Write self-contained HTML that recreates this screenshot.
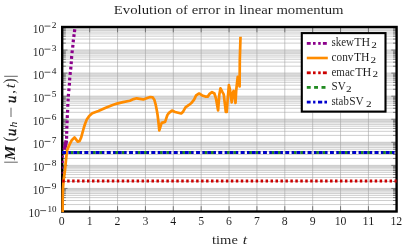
<!DOCTYPE html>
<html><head><meta charset="utf-8"><title>Evolution of error in linear momentum</title>
<style>html,body{margin:0;padding:0;background:#fff;}body{width:407px;height:248px;overflow:hidden;font-family:"Liberation Serif",serif;}svg{display:block;will-change:transform;}text{font-family:"Liberation Serif",serif;fill:#141414;stroke:#fff;stroke-width:0.06px;}</style>
</head><body>
<svg width="407" height="248" viewBox="0 0 407 248">
<rect x="0" y="0" width="407" height="248" fill="#fff"/>
<defs><clipPath id="cp"><rect x="61.10" y="26.20" width="336.60" height="186.00"/></clipPath></defs>
<g stroke="#adadad" stroke-width="0.60" fill="none">
<path d="M62.20 204.56H396.60"/>
<path d="M62.20 200.50H396.60"/>
<path d="M62.20 197.61H396.60"/>
<path d="M62.20 195.38H396.60"/>
<path d="M62.20 193.55H396.60"/>
<path d="M62.20 192.01H396.60"/>
<path d="M62.20 190.67H396.60"/>
<path d="M62.20 189.49H396.60"/>
<path d="M62.20 181.49H396.60"/>
<path d="M62.20 177.43H396.60"/>
<path d="M62.20 174.55H396.60"/>
<path d="M62.20 172.32H396.60"/>
<path d="M62.20 170.49H396.60"/>
<path d="M62.20 168.95H396.60"/>
<path d="M62.20 167.61H396.60"/>
<path d="M62.20 166.43H396.60"/>
<path d="M62.20 158.43H396.60"/>
<path d="M62.20 154.37H396.60"/>
<path d="M62.20 151.49H396.60"/>
<path d="M62.20 149.26H396.60"/>
<path d="M62.20 147.43H396.60"/>
<path d="M62.20 145.88H396.60"/>
<path d="M62.20 144.55H396.60"/>
<path d="M62.20 143.37H396.60"/>
<path d="M62.20 135.37H396.60"/>
<path d="M62.20 131.31H396.60"/>
<path d="M62.20 128.43H396.60"/>
<path d="M62.20 126.19H396.60"/>
<path d="M62.20 124.37H396.60"/>
<path d="M62.20 122.82H396.60"/>
<path d="M62.20 121.48H396.60"/>
<path d="M62.20 120.31H396.60"/>
<path d="M62.20 112.31H396.60"/>
<path d="M62.20 108.25H396.60"/>
<path d="M62.20 105.36H396.60"/>
<path d="M62.20 103.13H396.60"/>
<path d="M62.20 101.30H396.60"/>
<path d="M62.20 99.76H396.60"/>
<path d="M62.20 98.42H396.60"/>
<path d="M62.20 97.24H396.60"/>
<path d="M62.20 89.24H396.60"/>
<path d="M62.20 85.18H396.60"/>
<path d="M62.20 82.30H396.60"/>
<path d="M62.20 80.07H396.60"/>
<path d="M62.20 78.24H396.60"/>
<path d="M62.20 76.70H396.60"/>
<path d="M62.20 75.36H396.60"/>
<path d="M62.20 74.18H396.60"/>
<path d="M62.20 66.18H396.60"/>
<path d="M62.20 62.12H396.60"/>
<path d="M62.20 59.24H396.60"/>
<path d="M62.20 57.01H396.60"/>
<path d="M62.20 55.18H396.60"/>
<path d="M62.20 53.63H396.60"/>
<path d="M62.20 52.30H396.60"/>
<path d="M62.20 51.12H396.60"/>
<path d="M62.20 43.12H396.60"/>
<path d="M62.20 39.06H396.60"/>
<path d="M62.20 36.18H396.60"/>
<path d="M62.20 33.94H396.60"/>
<path d="M62.20 32.12H396.60"/>
<path d="M62.20 30.57H396.60"/>
<path d="M62.20 29.23H396.60"/>
<path d="M62.20 28.06H396.60"/>
</g>
<g stroke="#a2a2a2" stroke-width="0.60" fill="none">
<path d="M62.20 188.44H396.60"/>
<path d="M62.20 165.38H396.60"/>
<path d="M62.20 142.31H396.60"/>
<path d="M62.20 119.25H396.60"/>
<path d="M62.20 96.19H396.60"/>
<path d="M62.20 73.12H396.60"/>
<path d="M62.20 50.06H396.60"/>
<path d="M89.67 27.00V211.50"/>
<path d="M117.55 27.00V211.50"/>
<path d="M145.43 27.00V211.50"/>
<path d="M173.30 27.00V211.50"/>
<path d="M201.18 27.00V211.50"/>
<path d="M229.05 27.00V211.50"/>
<path d="M256.93 27.00V211.50"/>
<path d="M284.80 27.00V211.50"/>
<path d="M312.68 27.00V211.50"/>
<path d="M340.55 27.00V211.50"/>
<path d="M368.43 27.00V211.50"/>
</g>
<g stroke="#606060" stroke-width="0.80" fill="none">
<path d="M61.80 27.00V32.30"/>
<path d="M61.80 211.50V206.20"/>
<path d="M89.67 27.00V32.30"/>
<path d="M89.67 211.50V206.20"/>
<path d="M117.55 27.00V32.30"/>
<path d="M117.55 211.50V206.20"/>
<path d="M145.43 27.00V32.30"/>
<path d="M145.43 211.50V206.20"/>
<path d="M173.30 27.00V32.30"/>
<path d="M173.30 211.50V206.20"/>
<path d="M201.18 27.00V32.30"/>
<path d="M201.18 211.50V206.20"/>
<path d="M229.05 27.00V32.30"/>
<path d="M229.05 211.50V206.20"/>
<path d="M256.93 27.00V32.30"/>
<path d="M256.93 211.50V206.20"/>
<path d="M284.80 27.00V32.30"/>
<path d="M284.80 211.50V206.20"/>
<path d="M312.68 27.00V32.30"/>
<path d="M312.68 211.50V206.20"/>
<path d="M340.55 27.00V32.30"/>
<path d="M340.55 211.50V206.20"/>
<path d="M368.43 27.00V32.30"/>
<path d="M368.43 211.50V206.20"/>
<path d="M396.30 27.00V32.30"/>
<path d="M396.30 211.50V206.20"/>
<path d="M62.20 211.50H67.50"/>
<path d="M396.60 211.50H391.30"/>
<path d="M62.20 188.44H67.50"/>
<path d="M396.60 188.44H391.30"/>
<path d="M62.20 165.38H67.50"/>
<path d="M396.60 165.38H391.30"/>
<path d="M62.20 142.31H67.50"/>
<path d="M396.60 142.31H391.30"/>
<path d="M62.20 119.25H67.50"/>
<path d="M396.60 119.25H391.30"/>
<path d="M62.20 96.19H67.50"/>
<path d="M396.60 96.19H391.30"/>
<path d="M62.20 73.12H67.50"/>
<path d="M396.60 73.12H391.30"/>
<path d="M62.20 50.06H67.50"/>
<path d="M396.60 50.06H391.30"/>
<path d="M62.20 27.00H67.50"/>
<path d="M396.60 27.00H391.30"/>
<path d="M62.20 204.56H65.80"/>
<path d="M396.60 204.56H393.00"/>
<path d="M62.20 200.50H65.80"/>
<path d="M396.60 200.50H393.00"/>
<path d="M62.20 197.61H65.80"/>
<path d="M396.60 197.61H393.00"/>
<path d="M62.20 195.38H65.80"/>
<path d="M396.60 195.38H393.00"/>
<path d="M62.20 193.55H65.80"/>
<path d="M396.60 193.55H393.00"/>
<path d="M62.20 192.01H65.80"/>
<path d="M396.60 192.01H393.00"/>
<path d="M62.20 190.67H65.80"/>
<path d="M396.60 190.67H393.00"/>
<path d="M62.20 189.49H65.80"/>
<path d="M396.60 189.49H393.00"/>
<path d="M62.20 181.49H65.80"/>
<path d="M396.60 181.49H393.00"/>
<path d="M62.20 177.43H65.80"/>
<path d="M396.60 177.43H393.00"/>
<path d="M62.20 174.55H65.80"/>
<path d="M396.60 174.55H393.00"/>
<path d="M62.20 172.32H65.80"/>
<path d="M396.60 172.32H393.00"/>
<path d="M62.20 170.49H65.80"/>
<path d="M396.60 170.49H393.00"/>
<path d="M62.20 168.95H65.80"/>
<path d="M396.60 168.95H393.00"/>
<path d="M62.20 167.61H65.80"/>
<path d="M396.60 167.61H393.00"/>
<path d="M62.20 166.43H65.80"/>
<path d="M396.60 166.43H393.00"/>
<path d="M62.20 158.43H65.80"/>
<path d="M396.60 158.43H393.00"/>
<path d="M62.20 154.37H65.80"/>
<path d="M396.60 154.37H393.00"/>
<path d="M62.20 151.49H65.80"/>
<path d="M396.60 151.49H393.00"/>
<path d="M62.20 149.26H65.80"/>
<path d="M396.60 149.26H393.00"/>
<path d="M62.20 147.43H65.80"/>
<path d="M396.60 147.43H393.00"/>
<path d="M62.20 145.88H65.80"/>
<path d="M396.60 145.88H393.00"/>
<path d="M62.20 144.55H65.80"/>
<path d="M396.60 144.55H393.00"/>
<path d="M62.20 143.37H65.80"/>
<path d="M396.60 143.37H393.00"/>
<path d="M62.20 135.37H65.80"/>
<path d="M396.60 135.37H393.00"/>
<path d="M62.20 131.31H65.80"/>
<path d="M396.60 131.31H393.00"/>
<path d="M62.20 128.43H65.80"/>
<path d="M396.60 128.43H393.00"/>
<path d="M62.20 126.19H65.80"/>
<path d="M396.60 126.19H393.00"/>
<path d="M62.20 124.37H65.80"/>
<path d="M396.60 124.37H393.00"/>
<path d="M62.20 122.82H65.80"/>
<path d="M396.60 122.82H393.00"/>
<path d="M62.20 121.48H65.80"/>
<path d="M396.60 121.48H393.00"/>
<path d="M62.20 120.31H65.80"/>
<path d="M396.60 120.31H393.00"/>
<path d="M62.20 112.31H65.80"/>
<path d="M396.60 112.31H393.00"/>
<path d="M62.20 108.25H65.80"/>
<path d="M396.60 108.25H393.00"/>
<path d="M62.20 105.36H65.80"/>
<path d="M396.60 105.36H393.00"/>
<path d="M62.20 103.13H65.80"/>
<path d="M396.60 103.13H393.00"/>
<path d="M62.20 101.30H65.80"/>
<path d="M396.60 101.30H393.00"/>
<path d="M62.20 99.76H65.80"/>
<path d="M396.60 99.76H393.00"/>
<path d="M62.20 98.42H65.80"/>
<path d="M396.60 98.42H393.00"/>
<path d="M62.20 97.24H65.80"/>
<path d="M396.60 97.24H393.00"/>
<path d="M62.20 89.24H65.80"/>
<path d="M396.60 89.24H393.00"/>
<path d="M62.20 85.18H65.80"/>
<path d="M396.60 85.18H393.00"/>
<path d="M62.20 82.30H65.80"/>
<path d="M396.60 82.30H393.00"/>
<path d="M62.20 80.07H65.80"/>
<path d="M396.60 80.07H393.00"/>
<path d="M62.20 78.24H65.80"/>
<path d="M396.60 78.24H393.00"/>
<path d="M62.20 76.70H65.80"/>
<path d="M396.60 76.70H393.00"/>
<path d="M62.20 75.36H65.80"/>
<path d="M396.60 75.36H393.00"/>
<path d="M62.20 74.18H65.80"/>
<path d="M396.60 74.18H393.00"/>
<path d="M62.20 66.18H65.80"/>
<path d="M396.60 66.18H393.00"/>
<path d="M62.20 62.12H65.80"/>
<path d="M396.60 62.12H393.00"/>
<path d="M62.20 59.24H65.80"/>
<path d="M396.60 59.24H393.00"/>
<path d="M62.20 57.01H65.80"/>
<path d="M396.60 57.01H393.00"/>
<path d="M62.20 55.18H65.80"/>
<path d="M396.60 55.18H393.00"/>
<path d="M62.20 53.63H65.80"/>
<path d="M396.60 53.63H393.00"/>
<path d="M62.20 52.30H65.80"/>
<path d="M396.60 52.30H393.00"/>
<path d="M62.20 51.12H65.80"/>
<path d="M396.60 51.12H393.00"/>
<path d="M62.20 43.12H65.80"/>
<path d="M396.60 43.12H393.00"/>
<path d="M62.20 39.06H65.80"/>
<path d="M396.60 39.06H393.00"/>
<path d="M62.20 36.18H65.80"/>
<path d="M396.60 36.18H393.00"/>
<path d="M62.20 33.94H65.80"/>
<path d="M396.60 33.94H393.00"/>
<path d="M62.20 32.12H65.80"/>
<path d="M396.60 32.12H393.00"/>
<path d="M62.20 30.57H65.80"/>
<path d="M396.60 30.57H393.00"/>
<path d="M62.20 29.23H65.80"/>
<path d="M396.60 29.23H393.00"/>
<path d="M62.20 28.06H65.80"/>
<path d="M396.60 28.06H393.00"/>
</g>
<rect x="62.20" y="27.00" width="334.40" height="184.50" fill="none" stroke="#000" stroke-width="2.40"/>
<g clip-path="url(#cp)" fill="none" stroke-width="2.85" stroke-linejoin="miter" stroke-miterlimit="10">
<path d="M75.46 23.41L75.14 26.19 M74.77 29.31L74.43 32.09 M74.13 34.21L73.77 36.99 M73.45 39.51L73.15 42.29 M72.95 44.91L72.65 47.69 M72.30 50.31L72.00 53.09 M71.71 56.00L71.49 58.80 M71.35 61.30L71.15 64.10 M70.94 66.71L70.66 69.49 M70.34 72.01L70.06 74.79 M69.80 77.60L69.60 80.40 M69.50 82.80L69.30 85.60 M69.03 88.41L68.77 91.19 M68.51 93.80L68.29 96.60 M68.18 98.60L68.02 101.40 M67.86 104.00L67.74 106.80 M67.66 109.90L67.54 112.70 M67.37 115.20L67.23 118.00 M67.16 120.40L67.04 123.20 M66.90 125.80L66.80 128.60 M66.73 131.00L66.67 133.80 M66.63 135.90L66.57 138.70" stroke="#8b008b" stroke-width="3.2"/>
<path d="M66.3 140.4L65.7 144.2L64.3 149.6" stroke="#8b008b" stroke-width="3.7"/>
<path d="M62.9 155.4V157.5 M62.7 160.7V162.9" stroke="#8b008b" stroke-width="2.0"/>
<path d="M62.4 166.6V168.8 M62.2 171.8V173.8" stroke="#8b008b" stroke-width="1.3" opacity="0.8"/>
<path d="M62.65 212.60 L62.70 200.00 L62.90 190.00 L63.60 180.00 L64.30 175.00 L64.90 171.00 L65.80 162.00 L66.90 151.00 L68.20 147.60 L69.50 144.60 L71.80 140.20 L74.50 137.40 L76.20 139.60 L77.80 141.70 L79.60 141.00 L81.20 137.40 L83.90 127.50 L85.20 123.50 L86.80 119.60 L89.20 115.90 L92.30 113.20 L98.40 111.00 L104.60 108.30 L110.70 105.80 L116.90 103.60 L123.00 102.10 L129.90 100.70 L133.60 99.10 L136.70 98.30 L139.70 98.80 L143.40 99.40 L146.50 98.30 L150.20 97.00 L152.60 97.30 L154.30 99.70 L155.70 104.70 L156.90 110.80 L157.60 115.00 L158.60 123.50 L159.30 130.30 L160.70 125.80 L161.70 122.90 L165.10 121.90 L166.10 118.90 L167.40 115.00 L169.00 112.90 L172.00 110.60 L175.10 112.00 L178.20 112.70 L181.20 113.50 L183.10 111.70 L185.50 107.40 L188.60 105.20 L191.70 102.70 L194.10 99.60 L196.10 95.40 L199.10 93.50 L202.20 95.40 L205.30 96.60 L207.70 96.60 L209.60 93.90 L212.00 92.10 L214.40 93.50 L216.00 98.60 L217.30 106.00 L218.10 110.50 L219.30 94.70 L220.50 88.30 L222.20 91.70 L223.70 94.30 L224.90 104.00 L225.80 111.80 L226.80 111.80 L227.70 99.00 L228.90 85.00 L230.10 90.40 L231.70 102.30 L232.80 93.00 L233.70 90.90 L234.50 95.50 L235.50 103.00 L236.20 90.50 L237.70 76.80 L239.60 86.50 L239.80 60.00 L240.50 36.70" stroke="#ff8c00" stroke-width="2.7" stroke-linejoin="round"/>
<path d="M62.20 181.00H396.60" stroke="#cc0000" stroke-dasharray="2.5 2.46"/>
<path d="M62.20 152.50H396.60" stroke="#228b22" stroke-dasharray="3.72 3.72"/>
<path d="M62.20 152.50H396.60" stroke="#0000cd" stroke-dasharray="3.72 2.48 2.48 2.48"/>
</g>
<rect x="301.80" y="33.10" width="83.70" height="78.50" fill="#fff" stroke="#000" stroke-width="2.1"/>
<rect x="306.80" y="42.00" width="3.90" height="2.80" fill="#8b008b"/>
<rect x="313.00" y="42.00" width="2.60" height="2.80" fill="#8b008b"/>
<rect x="318.20" y="42.00" width="2.50" height="2.80" fill="#8b008b"/>
<rect x="322.90" y="42.00" width="3.90" height="2.80" fill="#8b008b"/>
<rect x="306.80" y="56.70" width="21.00" height="2.60" fill="#ff8c00"/>
<rect x="306.80" y="71.40" width="3.90" height="2.80" fill="#cc0000"/>
<rect x="313.00" y="71.40" width="2.60" height="2.80" fill="#cc0000"/>
<rect x="318.20" y="71.40" width="2.50" height="2.80" fill="#cc0000"/>
<rect x="322.90" y="71.40" width="3.90" height="2.80" fill="#cc0000"/>
<rect x="306.80" y="86.00" width="3.90" height="2.80" fill="#228b22"/>
<rect x="314.10" y="86.00" width="3.90" height="2.80" fill="#228b22"/>
<rect x="321.50" y="86.00" width="4.00" height="2.80" fill="#228b22"/>
<rect x="306.80" y="100.70" width="3.80" height="2.80" fill="#0000cd"/>
<rect x="313.10" y="100.70" width="2.30" height="2.80" fill="#0000cd"/>
<rect x="318.00" y="100.70" width="4.20" height="2.80" fill="#0000cd"/>
<rect x="324.40" y="100.70" width="2.60" height="2.80" fill="#0000cd"/>
<text x="331.40" y="45.90" font-size="12.00" text-anchor="start" textLength="22.60" lengthAdjust="spacingAndGlyphs" >skew</text>
<text x="354.30" y="45.90" font-size="12.00" text-anchor="start" textLength="15.90" lengthAdjust="spacingAndGlyphs" >TH</text>
<text x="371.30" y="47.80" font-size="8.30" text-anchor="start" textLength="5.60" lengthAdjust="spacingAndGlyphs" style="stroke:none">2</text>
<text x="331.60" y="60.80" font-size="12.00" text-anchor="start" textLength="21.90" lengthAdjust="spacingAndGlyphs" >conv</text>
<text x="354.00" y="60.80" font-size="12.00" text-anchor="start" textLength="15.50" lengthAdjust="spacingAndGlyphs" >TH</text>
<text x="370.60" y="62.70" font-size="8.30" text-anchor="start" textLength="5.60" lengthAdjust="spacingAndGlyphs" style="stroke:none">2</text>
<text x="331.40" y="75.50" font-size="12.00" text-anchor="start" textLength="23.30" lengthAdjust="spacingAndGlyphs" >emac</text>
<text x="355.20" y="75.50" font-size="12.00" text-anchor="start" textLength="16.20" lengthAdjust="spacingAndGlyphs" >TH</text>
<text x="372.60" y="77.40" font-size="8.30" text-anchor="start" textLength="5.60" lengthAdjust="spacingAndGlyphs" style="stroke:none">2</text>
<text x="331.60" y="90.10" font-size="12.00" text-anchor="start" textLength="14.20" lengthAdjust="spacingAndGlyphs" >SV</text>
<text x="346.10" y="92.00" font-size="8.30" text-anchor="start" textLength="5.60" lengthAdjust="spacingAndGlyphs" style="stroke:none">2</text>
<text x="331.40" y="104.70" font-size="12.00" text-anchor="start" textLength="17.40" lengthAdjust="spacingAndGlyphs" >stab</text>
<text x="349.20" y="104.70" font-size="12.00" text-anchor="start" textLength="14.60" lengthAdjust="spacingAndGlyphs" >SV</text>
<text x="366.10" y="106.60" font-size="8.30" text-anchor="start" textLength="5.60" lengthAdjust="spacingAndGlyphs" style="stroke:none">2</text>
<text x="113.80" y="14.10" font-size="12.90" text-anchor="start" textLength="229.80" lengthAdjust="spacingAndGlyphs" >Evolution of error in linear momentum</text>
<text x="58.85" y="224.60" font-size="13.00" text-anchor="start" textLength="5.90" lengthAdjust="spacingAndGlyphs" >0</text>
<text x="86.72" y="224.60" font-size="13.00" text-anchor="start" textLength="5.90" lengthAdjust="spacingAndGlyphs" >1</text>
<text x="114.60" y="224.60" font-size="13.00" text-anchor="start" textLength="5.90" lengthAdjust="spacingAndGlyphs" >2</text>
<text x="142.48" y="224.60" font-size="13.00" text-anchor="start" textLength="5.90" lengthAdjust="spacingAndGlyphs" >3</text>
<text x="170.35" y="224.60" font-size="13.00" text-anchor="start" textLength="5.90" lengthAdjust="spacingAndGlyphs" >4</text>
<text x="198.23" y="224.60" font-size="13.00" text-anchor="start" textLength="5.90" lengthAdjust="spacingAndGlyphs" >5</text>
<text x="226.10" y="224.60" font-size="13.00" text-anchor="start" textLength="5.90" lengthAdjust="spacingAndGlyphs" >6</text>
<text x="253.98" y="224.60" font-size="13.00" text-anchor="start" textLength="5.90" lengthAdjust="spacingAndGlyphs" >7</text>
<text x="281.85" y="224.60" font-size="13.00" text-anchor="start" textLength="5.90" lengthAdjust="spacingAndGlyphs" >8</text>
<text x="309.73" y="224.60" font-size="13.00" text-anchor="start" textLength="5.90" lengthAdjust="spacingAndGlyphs" >9</text>
<text x="334.65" y="224.60" font-size="13.00" text-anchor="start" textLength="11.80" lengthAdjust="spacingAndGlyphs" >10</text>
<text x="362.53" y="224.60" font-size="13.00" text-anchor="start" textLength="11.80" lengthAdjust="spacingAndGlyphs" >11</text>
<text x="390.40" y="224.60" font-size="13.00" text-anchor="start" textLength="11.80" lengthAdjust="spacingAndGlyphs" >12</text>
<text x="28.50" y="217.00" font-size="13.00" text-anchor="start" textLength="11.50" lengthAdjust="spacingAndGlyphs" >10</text>
<path d="M40.20 210.60H46.10" stroke="#222" stroke-width="0.75" fill="none"/>
<text x="47.40" y="212.40" font-size="7.50" text-anchor="start" textLength="9.00" lengthAdjust="spacingAndGlyphs" style="stroke:none">10</text>
<text x="32.80" y="193.94" font-size="13.00" text-anchor="start" textLength="11.50" lengthAdjust="spacingAndGlyphs" >10</text>
<path d="M44.50 187.54H50.40" stroke="#222" stroke-width="0.75" fill="none"/>
<text x="51.70" y="189.34" font-size="7.50" text-anchor="start" textLength="4.70" lengthAdjust="spacingAndGlyphs" style="stroke:none">9</text>
<text x="32.80" y="170.88" font-size="13.00" text-anchor="start" textLength="11.50" lengthAdjust="spacingAndGlyphs" >10</text>
<path d="M44.50 164.47H50.40" stroke="#222" stroke-width="0.75" fill="none"/>
<text x="51.70" y="166.28" font-size="7.50" text-anchor="start" textLength="4.70" lengthAdjust="spacingAndGlyphs" style="stroke:none">8</text>
<text x="32.80" y="147.81" font-size="13.00" text-anchor="start" textLength="11.50" lengthAdjust="spacingAndGlyphs" >10</text>
<path d="M44.50 141.41H50.40" stroke="#222" stroke-width="0.75" fill="none"/>
<text x="51.70" y="143.21" font-size="7.50" text-anchor="start" textLength="4.70" lengthAdjust="spacingAndGlyphs" style="stroke:none">7</text>
<text x="32.80" y="124.75" font-size="13.00" text-anchor="start" textLength="11.50" lengthAdjust="spacingAndGlyphs" >10</text>
<path d="M44.50 118.35H50.40" stroke="#222" stroke-width="0.75" fill="none"/>
<text x="51.70" y="120.15" font-size="7.50" text-anchor="start" textLength="4.70" lengthAdjust="spacingAndGlyphs" style="stroke:none">6</text>
<text x="32.80" y="101.69" font-size="13.00" text-anchor="start" textLength="11.50" lengthAdjust="spacingAndGlyphs" >10</text>
<path d="M44.50 95.29H50.40" stroke="#222" stroke-width="0.75" fill="none"/>
<text x="51.70" y="97.09" font-size="7.50" text-anchor="start" textLength="4.70" lengthAdjust="spacingAndGlyphs" style="stroke:none">5</text>
<text x="32.80" y="78.62" font-size="13.00" text-anchor="start" textLength="11.50" lengthAdjust="spacingAndGlyphs" >10</text>
<path d="M44.50 72.22H50.40" stroke="#222" stroke-width="0.75" fill="none"/>
<text x="51.70" y="74.03" font-size="7.50" text-anchor="start" textLength="4.70" lengthAdjust="spacingAndGlyphs" style="stroke:none">4</text>
<text x="32.80" y="55.56" font-size="13.00" text-anchor="start" textLength="11.50" lengthAdjust="spacingAndGlyphs" >10</text>
<path d="M44.50 49.16H50.40" stroke="#222" stroke-width="0.75" fill="none"/>
<text x="51.70" y="50.96" font-size="7.50" text-anchor="start" textLength="4.70" lengthAdjust="spacingAndGlyphs" style="stroke:none">3</text>
<text x="32.80" y="32.50" font-size="13.00" text-anchor="start" textLength="11.50" lengthAdjust="spacingAndGlyphs" >10</text>
<path d="M44.50 26.10H50.40" stroke="#222" stroke-width="0.75" fill="none"/>
<text x="51.70" y="27.90" font-size="7.50" text-anchor="start" textLength="4.70" lengthAdjust="spacingAndGlyphs" style="stroke:none">2</text>
<text x="212.00" y="243.50" font-size="13.40" text-anchor="start" textLength="25.90" lengthAdjust="spacingAndGlyphs" >time</text>
<text x="242.80" y="243.50" font-size="13.40" text-anchor="start" textLength="4.40" lengthAdjust="spacingAndGlyphs" font-style="italic">t</text>
<g transform="translate(15.2,163.2) rotate(-90)">
<path d="M1.0 2.6V-11 M86.9 2.6V-11" stroke="#222" stroke-width="0.7" fill="none"/>
<text x="3.00" y="0.00" font-size="14.60" textLength="14.60" lengthAdjust="spacingAndGlyphs" font-style="italic" font-weight="bold">M</text>
<text x="21.80" y="0.20" font-size="16.00" textLength="5.00" lengthAdjust="spacingAndGlyphs" >(</text>
<text x="27.20" y="0.90" font-size="15.00" textLength="7.40" lengthAdjust="spacingAndGlyphs" font-style="italic" style="stroke:#1c1c1c;stroke-width:0.45px">u</text>
<text x="35.60" y="2.10" font-size="10.40" textLength="5.80" lengthAdjust="spacingAndGlyphs" font-style="italic" style="stroke:none">h</text>
<path d="M46.2 -4.2H55.5" stroke="#222" stroke-width="0.7" fill="none"/>
<text x="60.10" y="0.90" font-size="15.00" textLength="7.40" lengthAdjust="spacingAndGlyphs" font-style="italic" style="stroke:#1c1c1c;stroke-width:0.45px">u</text>
<text x="69.40" y="0.00" font-size="14.40" >,</text>
<text x="75.00" y="0.00" font-size="14.40" textLength="4.60" lengthAdjust="spacingAndGlyphs" font-style="italic">t</text>
<text x="79.70" y="0.20" font-size="16.00" textLength="5.00" lengthAdjust="spacingAndGlyphs" >)</text>
</g>
</svg></body></html>
